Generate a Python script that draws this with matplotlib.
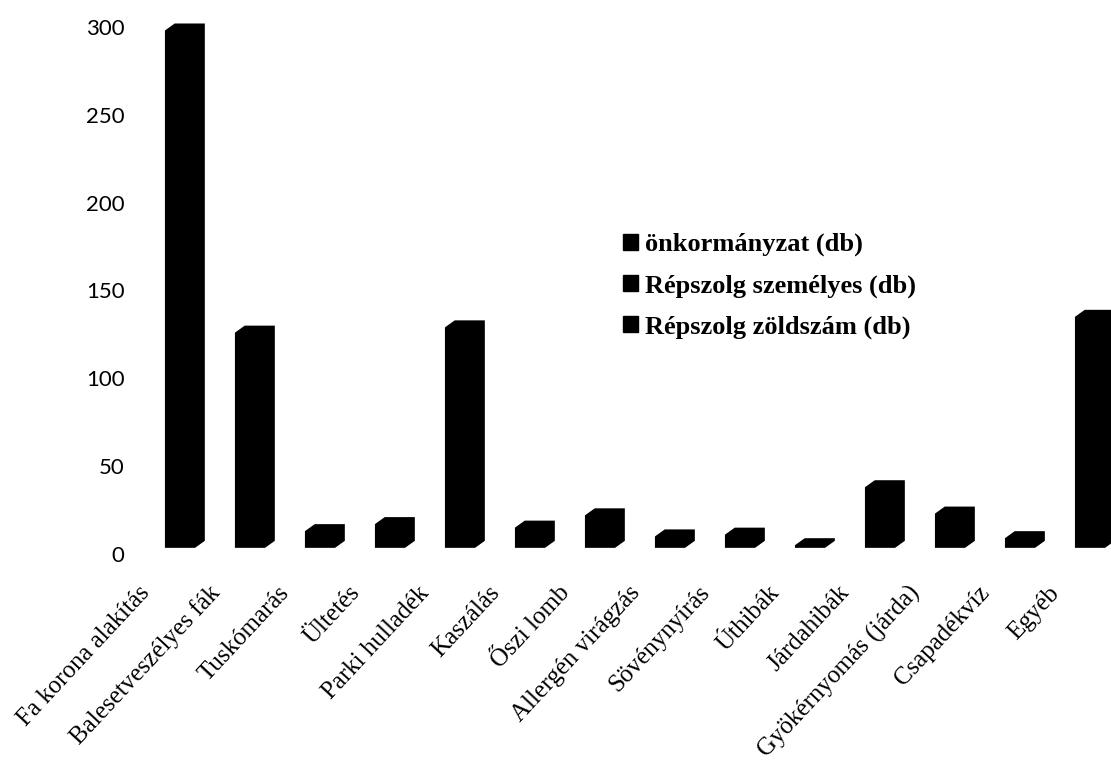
import matplotlib
matplotlib.use("Agg")
import matplotlib.pyplot as plt
import matplotlib.transforms as mtransforms
from matplotlib.patches import Patch
import numpy as np

# values
categories = ["Fa korona alakítás", "Balesetveszélyes fák", "Tuskómarás", "Ültetés",
              "Parki hulladék", "Kaszálás", "Őszi lomb", "Allergén virágzás",
              "Sövénynyírás", "Úthibák", "Járdahibák", "Gyökérnyomás (járda)",
              "Csapadékvíz", "Egyéb"]
onkormanyzat = [298, 126, 13, 17, 129, 15, 22, 10, 11, 5, 38, 23, 9, 135]
series_names = ["önkormányzat (db)", "Répszolg személyes (db)", "Répszolg zöldszám (db)"]
yticks = [0, 50, 100, 150, 200, 250, 300]

# 3D look
FLOOR = 3.5
W = 0.43
DX = 0.14
DY = 4.0

fig = plt.figure(figsize=(11.11, 7.63), dpi=100)
ax = fig.add_axes([133 / 1111, 1 - 554 / 763, 1 - 133 / 1111, (554 - 27) / 763])

x = np.arange(len(categories))
for xi, v in zip(x, onkormanyzat):
    xs = [xi - W / 2, xi + W / 2, xi + W / 2 + DX, xi + W / 2 + DX, xi - W / 2 + DX, xi - W / 2]
    ys = [FLOOR, FLOOR, FLOOR + DY, v + DY, v + DY, v]
    ax.fill(xs, ys, color="black", lw=0, clip_on=False)

ax.set_xlim(-0.671, 13.3)
ax.set_ylim(0, 300)
ax.set_yticks(yticks)
ax.set_yticklabels([str(t) for t in yticks], fontfamily="Lato", fontsize=16)
ax.tick_params(axis="y", length=0, pad=6)
ax.set_xticks(x)
ax.set_xticklabels(categories, rotation=47, ha="right", va="top", rotation_mode="anchor",
                   fontfamily="Liberation Serif", fontsize=18)
ax.tick_params(axis="x", length=0, pad=20)
off = mtransforms.ScaledTranslation(-0.42, 0, fig.dpi_scale_trans)
for lab in ax.get_xticklabels():
    lab.set_transform(lab.get_transform() + off)
for s in ax.spines.values():
    s.set_visible(False)

handles = [Patch(facecolor="black", edgecolor="black") for _ in series_names]
leg = fig.legend(handles, series_names, loc="upper left", bbox_to_anchor=(623 / 1111, 1 - 233 / 763),
                 frameon=False, borderpad=0, borderaxespad=0,
                 handlelength=0.57, handleheight=0.57, handletextpad=0.25,
                 labelspacing=0.67, prop={"family": "Liberation Serif", "weight": "bold", "size": 19})

fig.savefig("out.png", dpi=100)
